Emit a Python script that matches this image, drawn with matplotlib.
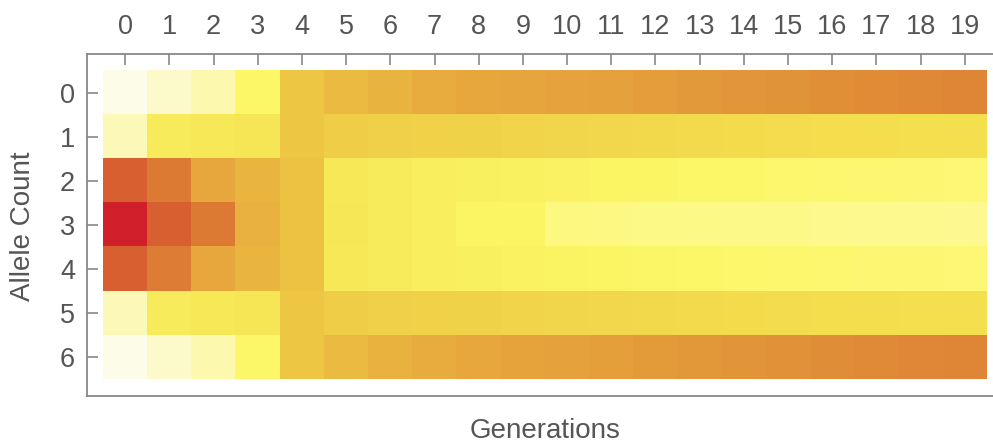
import numpy as np
import matplotlib
matplotlib.use("Agg")
import matplotlib.pyplot as plt
from matplotlib.colors import LinearSegmentedColormap

plt.rcParams['font.family'] = ['Liberation Sans', 'DejaVu Sans']

generations = list(range(20))
allele_counts = list(range(7))

# colour level of each cell, rows = allele count 0..6, columns = generation 0..19
row0 = [0.00, 0.06, 0.12, 0.30, 0.54, 0.62, 0.65, 0.68, 0.70, 0.71,
        0.72, 0.73, 0.745, 0.76, 0.77, 0.78, 0.79, 0.80, 0.81, 0.82]
row1 = [0.10, 0.38, 0.40, 0.42, 0.54, 0.52, 0.51, 0.505, 0.50, 0.495,
        0.49, 0.485, 0.48, 0.475, 0.47, 0.465, 0.46, 0.455, 0.45, 0.45]
row2 = [0.90, 0.85, 0.70, 0.64, 0.57, 0.40, 0.38, 0.36, 0.35, 0.34,
        0.33, 0.32, 0.31, 0.30, 0.29, 0.28, 0.27, 0.265, 0.26, 0.25]
row3 = [1.00, 0.90, 0.85, 0.66, 0.57, 0.41, 0.38, 0.36, 0.32, 0.31,
        0.22, 0.215, 0.21, 0.205, 0.20, 0.20, 0.195, 0.19, 0.19, 0.185]
row4 = [0.90, 0.84, 0.70, 0.64, 0.57, 0.40, 0.38, 0.36, 0.345, 0.335,
        0.325, 0.315, 0.305, 0.295, 0.285, 0.275, 0.27, 0.26, 0.255, 0.25]
row5 = [0.10, 0.385, 0.40, 0.415, 0.54, 0.52, 0.51, 0.505, 0.50, 0.495,
        0.49, 0.485, 0.48, 0.475, 0.47, 0.465, 0.46, 0.455, 0.45, 0.45]
row6 = [0.00, 0.06, 0.12, 0.29, 0.54, 0.62, 0.655, 0.685, 0.70, 0.715,
        0.725, 0.735, 0.75, 0.765, 0.775, 0.785, 0.795, 0.805, 0.815, 0.82]

matrix = np.array([row0, row1, row2, row3, row4, row5, row6])

# cream -> yellow -> gold -> orange -> red
cmap = LinearSegmentedColormap.from_list("solar", [
    (0.00, "#FDFCE8"), (0.06, "#FCF9CB"), (0.12, "#FCFAAE"),
    (0.18, "#FDFA92"), (0.24, "#FDF878"), (0.30, "#FCF766"),
    (0.38, "#F8EC5C"), (0.46, "#F4DE4E"), (0.54, "#EEC845"),
    (0.62, "#EBBA40"), (0.70, "#E8A83E"), (0.76, "#E39A3A"),
    (0.82, "#DF8636"), (0.85, "#DD7A34"), (0.90, "#D96131"),
    (1.00, "#D1202B")])

W, H = 993, 444
fig = plt.figure(figsize=(W / 100, H / 100), dpi=100)
ax = fig.add_axes([87 / W, 1 - 396 / H, (1003 - 87) / W, (396 - 54) / H])

ax.imshow(matrix, cmap=cmap, vmin=0, vmax=1, aspect='auto',
          interpolation='nearest')
ax.set_xlim(-0.862, 19.862)
ax.set_ylim(6.886, -0.886)

frame = '#888888'
text_c = '#555555'
for side in ['left', 'top', 'bottom']:
    ax.spines[side].set_color(frame)
    ax.spines[side].set_linewidth(1.3)
ax.spines['right'].set_visible(False)

ax.xaxis.tick_top()
ax.set_xticks(generations)
ax.set_xticklabels([str(g) for g in generations])
ax.set_yticks(allele_counts)
ax.set_yticklabels([str(a) for a in allele_counts])
ax.tick_params(axis='x', direction='in', length=8, width=1.2, color=frame,
               labelsize=19.5, labelcolor=text_c, pad=10, top=True, bottom=False)
ax.tick_params(axis='y', direction='in', length=8, width=1.2, color=frame,
               labelsize=19.5, labelcolor=text_c, pad=8.5)

fig.text(545 / W, 1 - 431 / H, "Generations", ha='center', va='center',
         fontsize=20, color=text_c)
fig.text(23 / W, 1 - 226 / H, "Allele Count", ha='center', va='center',
         rotation=90, fontsize=20, color=text_c)

fig.savefig("out.png", dpi=100)
